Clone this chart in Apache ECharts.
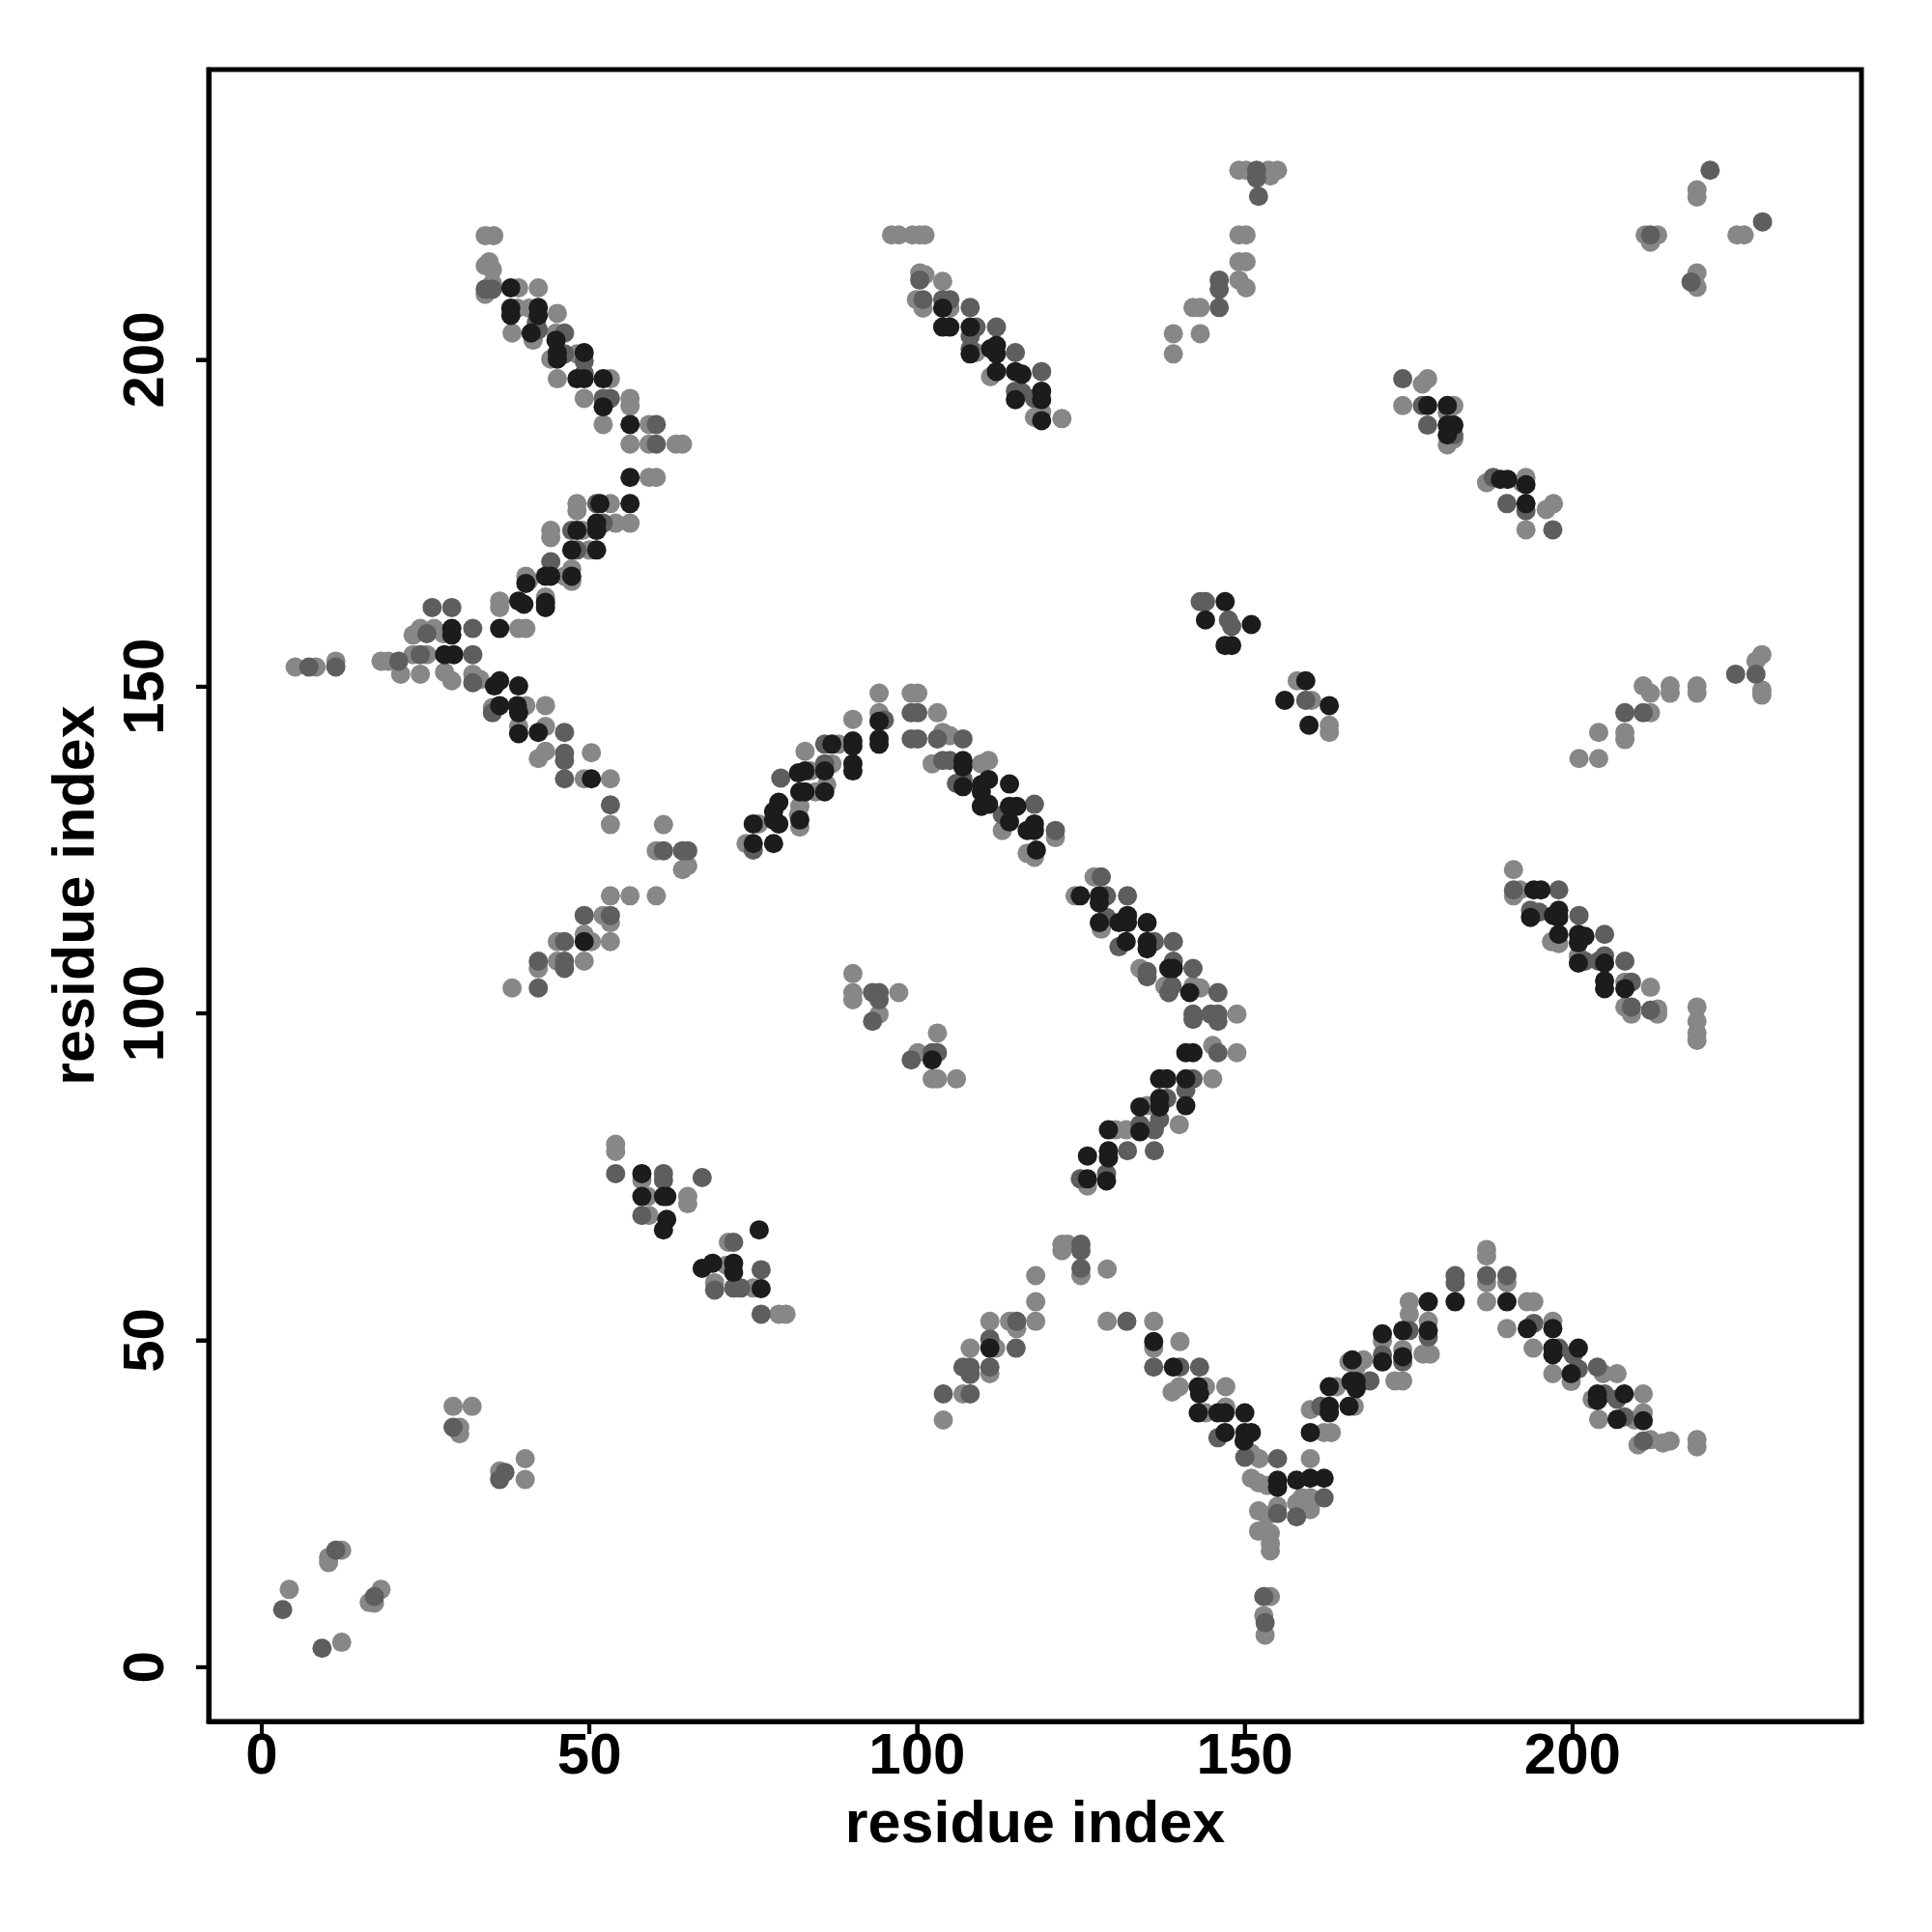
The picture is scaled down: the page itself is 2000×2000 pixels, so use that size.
<!DOCTYPE html>
<html><head><meta charset="utf-8">
<script src="https://cdn.jsdelivr.net/npm/echarts@6/dist/echarts.min.js"></script>
<style>html,body{margin:0;padding:0;background:#fff}#c{width:2000px;height:2000px}</style>
</head><body><div id="c"></div>
<script>
const xTicks=[0,50,100,150,200];
const yTicks=[0,50,100,150,200];
const lightPts=[[34.1,219.0],[35.4,219.0],[34.7,215.0],[34.1,214.4],[35.2,213.8],[35.2,211.7],[34.1,210.0],[39.2,211.0],[42.2,211.0],[39.0,207.9],[40.8,207.9],[38.2,204.1],[41.4,203.0],[45.1,207.1],[44.9,204.1],[44.1,200.1],[48.1,200.9],[45.1,197.1],[53.2,197.1],[49.2,194.1],[56.2,194.1],[56.2,192.9],[52.1,190.1],[59.1,190.1],[56.2,187.1],[59.1,187.1],[63.2,187.1],[64.2,187.1],[59.1,182.0],[60.2,182.0],[48.1,178.0],[48.1,176.9],[53.2,178.0],[54.0,175.0],[56.2,175.0],[48.9,173.9],[44.1,173.9],[44.1,172.8],[50.0,170.9],[40.3,166.9],[40.8,166.3],[47.3,168.0],[47.3,166.1],[46.2,166.9],[36.3,163.1],[36.3,162.1],[43.3,163.7],
[23.1,157.9],[24.2,158.9],[26.3,158.9],[27.7,158.1],[39.2,158.9],[40.3,158.9],[5.1,153.0],[8.3,153.0],[11.3,153.9],[18.2,153.9],[19.3,153.9],[21.2,151.9],[23.1,154.9],[24.2,151.9],[25.2,154.9],[27.9,152.2],[29.0,150.9],[32.2,151.9],[33.3,151.1],[35.2,146.8],[40.3,147.1],[43.3,147.1],[39.2,143.9],[43.3,143.9],[42.2,139.0],[43.3,140.1],[50.3,139.9],[49.2,135.9],[53.2,135.9],[53.2,128.9],[61.3,128.9],[60.2,124.9],[64.2,122.0],[65.0,122.6],[53.2,118.0],[56.2,118.0],[60.2,118.0],[52.1,115.0],[53.2,113.9],[45.1,111.0],[49.2,112.1],[50.3,111.0],[53.2,111.0],[42.2,106.9],[45.1,108.0],[49.2,108.0],[38.2,103.9],[54.0,80.0],[54.0,78.9],[75.8,129.0],[73.9,126.0],
[58.0,74.5],[58.9,72.0],[65.0,72.0],[65.0,70.9],[59.1,69.1],[71.2,65.0],[70.9,61.5],[69.1,58.8],[75.0,58.0],[29.2,39.9],[32.1,39.9],[30.2,36.7],[30.2,35.7],[36.3,30.0],[40.2,31.9],[40.2,28.7],[10.2,16.8],[12.2,17.9],[10.2,16.0],[4.2,11.9],[18.2,11.9],[16.4,9.9],[17.2,9.8],[12.2,3.8],[78.9,54.0],[80.0,54.0],
[96.1,219.1],[97.2,219.1],[99.3,219.1],[100.4,219.1],[101.2,219.1],[100.4,213.3],[101.2,213.0],[103.9,212.0],[99.9,209.2],[100.9,207.9],[105.0,207.9],[109.0,201.1],[111.2,197.4],[117.9,191.2],[119.0,192.0],[122.1,191.0],[149.1,229.0],[150.2,229.0],[153.6,229.0],[155.0,229.0],[153.9,228.1],[149.1,219.1],[150.2,219.1],[149.1,215.0],[150.2,215.0],[149.1,212.2],[150.2,211.0],[142.1,208.0],[143.2,208.0],[139.1,204.0],[143.2,204.0],[139.1,200.9],
[81.9,130.4],[82.1,128.5],[82.1,131.7],[83.7,137.1],[84.5,133.9],[82.9,140.1],[86.2,135.0],[87.0,138.2],[88.0,141.2],[90.2,145.0],[94.2,149.0],[94.2,146.0],[99.1,149.0],[100.1,149.0],[103.1,146.0],[103.9,143.0],[105.0,142.5],[102.3,138.2],[109.8,138.2],[110.9,138.7],[113.0,128.0],[121.1,126.9],[116.8,124.5],[117.9,123.9],[158.0,150.9],[160.2,147.9],[127.0,120.9],[124.1,118.0],[128.1,112.9],[134.0,106.9],[137.8,104.2],[142.1,104.2],[143.2,103.9],[148.8,99.9],[145.1,95.1],[148.8,94.0],[145.1,90.0],[135.1,85.9],[140.0,83.0],[130.3,82.2],[131.9,82.2],[90.2,106.1],[90.2,103.2],[90.2,102.1],[94.2,99.9],[97.2,103.2],[103.1,97.0],[100.1,94.0],[102.3,90.0],[103.1,90.0],[106.0,90.0],[162.9,144.1],[162.9,143.0],
[126.0,73.6],[122.1,64.7],[122.1,63.7],[123.0,64.7],[125.0,59.9],[129.0,60.9],[118.1,59.9],[118.1,55.9],[118.1,52.9],[111.1,52.9],[114.1,52.9],[115.2,51.8],[108.1,48.8],[112.0,48.8],[111.1,44.9],[107.0,41.8],[104.0,37.8],[129.0,52.9],[136.1,52.9],[136.1,48.8],[140.1,49.8],[138.9,42.1],[140.0,42.9],[144.0,42.9],[147.1,42.9],[144.0,38.9],[147.1,39.8],[151.0,32.7],[152.2,31.9],[151.0,28.9],[152.1,28.2],[153.4,27.8],[152.1,23.9],[153.4,23.2],[155.0,24.6],[152.1,20.8],[153.9,20.5],[153.9,18.9],[153.9,17.8],[157.9,25.1],[158.7,25.9],[153.9,10.8],[152.9,7.9],[153.1,4.9],
[160.0,39.4],[160.0,31.9],[160.0,25.9],[160.0,24.1],[162.1,35.9],[163.2,35.9],[164.0,42.9],[166.7,39.9],[165.9,46.7],[168.1,47.0],[167.0,45.9],[171.0,49.9],[172.9,43.8],[174.1,43.8],[174.1,48.6],[175.1,55.9],[175.1,54.0],[178.0,52.9],[177.2,47.9],[178.3,47.9],[186.9,63.9],[186.9,62.9],[186.9,58.8],[186.9,55.9],[190.0,58.8],[190.0,51.8],[193.1,55.9],[194.1,55.9],[197.0,52.9],[194.0,48.8],[197.0,44.9],[199.8,43.7],[204.7,44.9],[206.8,44.9],[203.0,41.0],[210.8,41.8],[204.0,37.9],[210.8,38.9],[209.5,37.8],[210.0,34.0],[211.9,34.8],[213.8,34.3],[214.9,34.6],[219.0,34.8],[219.0,33.7],
[219.0,226.0],[219.0,224.9],[211.1,219.1],[213.0,219.1],[211.9,218.0],[225.1,219.1],[226.2,219.1],[219.0,213.3],[219.0,211.1],[177.1,196.3],[177.9,197.1],[174.1,193.0],[181.9,193.0],[180.9,191.9],[180.9,187.0],[181.9,187.9],[186.9,181.2],[192.3,181.2],[192.9,182.0],[196.0,177.1],[197.1,178.0],[192.9,174.0],
[201.0,139.0],[204.0,139.0],[204.0,143.0],[208.0,143.0],[208.0,141.9],[211.9,146.0],[210.8,150.1],[211.9,149.0],[214.9,150.1],[214.9,149.0],[219.0,150.1],[219.0,149.0],[228.9,154.9],[228.0,153.9],[228.9,149.5],[228.9,148.7],[191.0,122.0],[191.0,118.0],[192.0,118.9],[196.8,111.0],[197.9,110.7],[200.9,108.8],[208.0,104.8],[211.9,104.0],[208.0,101.0],[209.0,99.9],[213.0,100.7],[213.0,99.9],[219.0,101.0],[219.0,98.8],[219.0,97.0],[219.0,95.9]];
const midPts=[[34.1,210.8],[35.2,210.8],[41.9,205.7],[42.2,204.6],[46.2,204.1],[46.2,200.9],[49.2,199.8],[49.2,197.9],[52.1,194.1],[53.2,194.1],[60.2,190.1],[60.2,187.1],[51.1,178.0],[52.1,175.0],[47.3,173.9],[48.1,170.9],[44.1,169.1],[26.0,162.1],[29.0,162.1],
[25.2,158.1],[32.2,158.9],[7.2,153.0],[11.3,153.0],[20.9,153.9],[24.2,154.9],[32.2,154.9],[32.2,150.6],[35.2,146.0],[46.2,143.0],[46.2,139.8],[46.2,138.7],[46.2,135.9],[53.2,131.9],[61.3,124.9],[64.2,124.9],[65.0,124.9],[49.2,115.0],[53.2,115.0],[46.2,111.0],[42.2,108.0],[46.2,108.0],[46.2,106.9],[42.2,103.9],[75.0,125.0],
[54.0,75.5],[61.3,75.5],[61.3,74.5],[67.2,74.9],[58.0,69.1],[72.0,65.0],[69.1,57.7],[72.0,58.0],[73.1,58.0],[29.2,36.7],[37.1,29.8],[36.3,28.7],[11.3,17.9],[3.2,8.8],[17.2,10.8],[9.2,2.9],[76.2,60.8],[76.2,54.0],
[100.4,212.2],[100.9,209.2],[103.9,209.2],[105.0,209.2],[108.1,208.0],[109.0,205.0],[112.1,205.0],[108.1,203.6],[108.1,201.7],[115.0,201.1],[119.0,198.2],[115.0,195.2],[116.0,195.0],[117.9,194.1],[151.8,229.0],[151.8,227.8],[152.1,225.0],[146.1,212.2],[146.1,210.8],[146.1,208.0],[143.2,163.0],[144.0,163.0],[147.5,160.2],
[148.0,159.2],[79.2,136.0],[85.9,138.2],[85.9,141.2],[95.0,144.9],[99.1,146.0],[100.1,146.0],[99.1,142.0],[100.1,142.0],[103.1,142.0],[107.0,142.0],[103.9,138.7],[105.0,138.7],[106.0,135.2],[107.0,135.8],[113.0,130.4],[117.9,132.0],[121.1,128.0],[159.3,147.9],[128.1,120.9],[128.9,118.0],[132.1,118.0],[128.9,114.7],[130.8,110.2],[136.2,111.0],[139.1,111.0],[135.1,106.4],[135.1,105.6],[139.1,108.0],[142.1,106.9],[138.4,103.2],[138.9,104.2],[145.9,103.2],[142.1,99.9],[142.1,99.1],[144.8,99.9],[145.9,99.9],[145.9,98.8],[145.9,94.0],[142.1,90.0],[141.0,88.3],[138.1,87.0],[137.0,83.8],[134.0,83.0],[136.2,82.2],[132.1,79.0],[136.2,79.0],[93.2,103.2],[94.2,103.2],[94.2,102.1],[93.2,98.8],[99.1,92.9],[102.3,94.0],[103.1,94.0],
[124.9,74.7],[128.9,75.5],[125.0,64.7],[125.0,63.7],[125.0,61.0],[115.2,52.9],[111.1,50.2],[115.1,48.8],[107.0,45.9],[108.1,45.9],[108.1,44.8],[111.1,45.9],[104.0,41.8],[108.1,41.8],[132.0,52.9],[136.1,45.9],[140.1,45.9],[143.1,45.9],[145.9,35.1],[150.0,32.1],[155.0,31.9],[155.0,23.5],[157.9,23.0],[152.9,10.8],[153.1,6.8],
[162.1,25.9],[161.6,39.9],[169.1,43.8],[171.0,47.8],[174.1,46.7],[175.1,51.5],[178.0,50.5],[182.1,59.9],[182.1,58.8],[186.9,59.9],[190.0,59.9],[194.1,52.6],[197.9,48.8],[200.1,47.8],[200.9,45.6],[203.8,45.9],[204.9,41.8],[206.8,41.0],[207.9,38.3],[210.8,34.6],
[221.0,229.0],[211.9,219.1],[229.0,221.1],[218.1,211.9],[174.1,197.1],[177.1,193.0],[177.9,190.0],[181.9,188.5],[187.9,182.0],[190.0,178.0],[192.9,176.9],[197.0,174.0],
[208.0,146.0],[210.8,146.0],[224.9,151.9],[228.0,151.9],[191.0,118.9],[197.9,118.9],[193.6,115.8],[194.9,115.5],[201.0,115.0],[204.9,112.1],[201.9,108.0],[204.9,108.8],[204.0,108.0],[208.0,108.0],[209.0,104.8],[209.0,101.0],[211.9,100.5]];
const darkPts=[[38.0,211.0],[38.0,207.9],[38.0,206.8],[42.2,208.0],[42.2,206.8],[41.1,204.1],[44.9,203.0],[45.1,201.1],[45.1,200.1],[49.2,201.1],[48.1,197.1],[49.2,197.1],[52.1,197.1],[52.1,192.8],[56.2,190.1],[56.2,182.0],[56.2,178.0],[51.6,178.0],[51.1,175.0],[51.1,173.9],[48.1,173.9],[47.3,170.9],[51.1,170.9],[43.3,166.9],[44.1,166.9],[40.3,165.8],[47.3,166.9],[39.2,163.1],[40.0,162.6],[43.3,162.9],[43.3,162.1],
[29.0,158.9],[29.0,157.9],[36.3,158.9],[27.9,154.9],[29.3,154.9],[35.5,150.1],[36.3,150.9],[39.2,150.1],[36.3,147.1],[39.0,147.1],[39.2,146.0],[39.2,142.8],[42.2,143.0],[50.3,135.9],[49.2,111.0],[75.0,129.0],[75.0,126.0],
[58.0,75.5],[58.0,72.0],[61.3,72.0],[61.8,72.0],[61.8,68.5],[61.3,66.9],[67.2,61.0],[68.8,61.8],[72.0,61.8],[72.0,60.4],[75.9,66.9],[76.2,57.9],
[103.9,207.9],[103.9,205.0],[105.0,205.0],[108.1,205.0],[108.1,200.9],[111.2,201.7],[112.1,202.2],[112.1,200.9],[112.1,198.2],[115.0,198.2],[116.0,197.8],[115.0,193.9],[119.0,195.2],[119.0,193.9],[119.0,190.7],[147.0,163.0],[144.0,160.2],[151.0,159.5],
[147.0,156.3],[148.0,156.3],[78.1,126.0],[78.1,129.6],[78.9,129.0],[78.9,132.3],[78.1,130.9],[82.1,129.6],[81.9,136.8],[82.1,133.9],[82.9,137.1],[82.9,133.9],[85.9,137.1],[85.9,133.9],[87.0,141.2],[90.2,141.7],[90.2,140.9],[90.2,138.2],[90.2,137.1],[94.2,144.7],[94.2,142.0],[94.2,141.2],[107.0,138.7],[107.0,137.7],[107.0,134.7],[109.8,135.0],[110.9,135.8],[114.1,135.1],[109.8,133.9],[109.8,131.7],[110.9,132.0],[114.1,131.7],[115.2,131.7],[114.1,129.3],[117.9,129.0],[117.9,128.0],[116.8,128.0],[118.2,125.0],[156.1,147.9],[159.3,150.9],[159.8,144.1],[162.9,147.1],[124.9,118.0],[127.8,118.0],[127.8,116.9],[127.8,113.9],[130.8,113.9],[132.1,115.0],[132.1,113.9],[135.1,113.9],[131.9,111.0],[135.1,111.0],[135.1,109.9],[138.4,106.9],[139.1,106.9],[141.6,103.2],[141.0,94.0],[142.1,94.0],[137.0,90.0],[138.1,90.0],[141.0,90.0],[134.0,85.7],[137.0,87.0],[137.0,85.7],[141.0,85.9],[129.2,82.2],[134.0,81.9],[126.0,78.2],[129.2,79.0],[129.2,77.9],[102.3,92.9],
[126.0,74.7],[128.9,74.4],[111.1,48.8],[136.1,49.8],[139.1,45.9],[142.9,42.9],[143.1,41.8],[142.9,38.9],[145.9,38.9],[147.0,38.9],[150.0,38.9],[147.0,35.9],[150.0,35.9],[151.0,35.9],[149.9,34.6],[155.0,28.6],[155.0,27.5],[157.9,28.6],
[160.0,35.9],[160.0,28.9],[162.1,28.9],[162.9,39.9],[162.9,38.9],[162.9,42.9],[165.9,39.9],[166.2,43.7],[167.0,43.7],[167.0,42.6],[166.4,47.0],[171.0,51.0],[171.0,46.7],[174.1,47.5],[174.1,51.5],[178.0,55.9],[178.0,51.5],[182.1,55.9],[190.0,55.9],[193.1,51.8],[197.0,51.8],[197.0,48.8],[197.0,47.8],[200.9,48.8],[199.8,44.9],[203.8,41.8],[203.8,40.8],[207.9,41.8],[206.8,37.9],[210.8,37.7],
[177.9,193.0],[180.9,193.0],[180.9,190.0],[181.9,190.0],[180.9,188.5],[189.0,181.7],[190.1,181.7],[192.9,180.9],[192.9,178.0],
[194.1,118.9],[195.2,118.9],[193.6,114.7],[197.1,115.0],[197.9,115.8],[197.9,114.7],[197.9,112.1],[200.9,112.1],[201.9,111.8],[200.9,110.8],[200.9,107.7],[204.9,107.7],[204.9,105.0],[204.9,103.8],[208.0,103.8]];

const FONT='"Liberation Sans", Arial, Helvetica, sans-serif';
const GRID={left:216,right:73,top:72,bottom:218};
const chart=echarts.init(document.getElementById('c'),null,{renderer:'canvas'});
const mk=(data,color)=>({type:'scatter',data:data,symbol:'circle',symbolSize:20,itemStyle:{color:color,opacity:1},silent:true});
const lbl={fontSize:60,fontWeight:'bold',fontFamily:FONT,color:'#000'};
const ttl={fontSize:61,fontWeight:'bold',fontFamily:FONT,color:'#000'};
const axisLine={show:true,onZero:false,lineStyle:{color:'#000',width:5}};
chart.setOption({
  animation:false,
  backgroundColor:'#fff',
  grid:Object.assign({show:true,borderColor:'#000',borderWidth:5,backgroundColor:'transparent'},GRID),
  xAxis:{type:'value',min:-8.1,max:244.1,
    axisLine:axisLine,
    axisTick:{show:true,customValues:xTicks,length:13,lineStyle:{color:'#000',width:4}},
    axisLabel:Object.assign({customValues:xTicks,margin:7},lbl),
    splitLine:{show:false},
    name:'residue index',nameLocation:'middle',nameGap:78,nameTextStyle:ttl},
  yAxis:{type:'value',min:-8.3,max:244.4,
    axisLine:axisLine,
    axisTick:{show:true,customValues:yTicks,length:13,lineStyle:{color:'#000',width:4}},
    axisLabel:Object.assign({customValues:yTicks,margin:34,rotate:90},lbl),
    splitLine:{show:false},
    name:'residue index',nameLocation:'middle',nameGap:105,nameTextStyle:ttl},
  series:[mk(lightPts,'#878787'),mk(midPts,'#5e5e5e'),mk(darkPts,'#1c1c1c')]
});
// extra tick marks placed through the axes' own scales (drawn on top, outward)
const gx0=GRID.left, gy1=2000-GRID.bottom, TL=13;
const gfx=[];
xTicks.forEach(function(v){
  const px=chart.convertToPixel({xAxisIndex:0},v);
  if(isFinite(px)) gfx.push({type:'line',silent:true,z:100,shape:{x1:px,y1:gy1,x2:px,y2:gy1+TL},style:{stroke:'#000',lineWidth:4}});
});
yTicks.forEach(function(v){
  const py=chart.convertToPixel({yAxisIndex:0},v);
  if(isFinite(py)) gfx.push({type:'line',silent:true,z:100,shape:{x1:gx0-TL,y1:py,x2:gx0,y2:py},style:{stroke:'#000',lineWidth:4}});
});
chart.setOption({graphic:{elements:gfx}});
</script>
</body></html>
